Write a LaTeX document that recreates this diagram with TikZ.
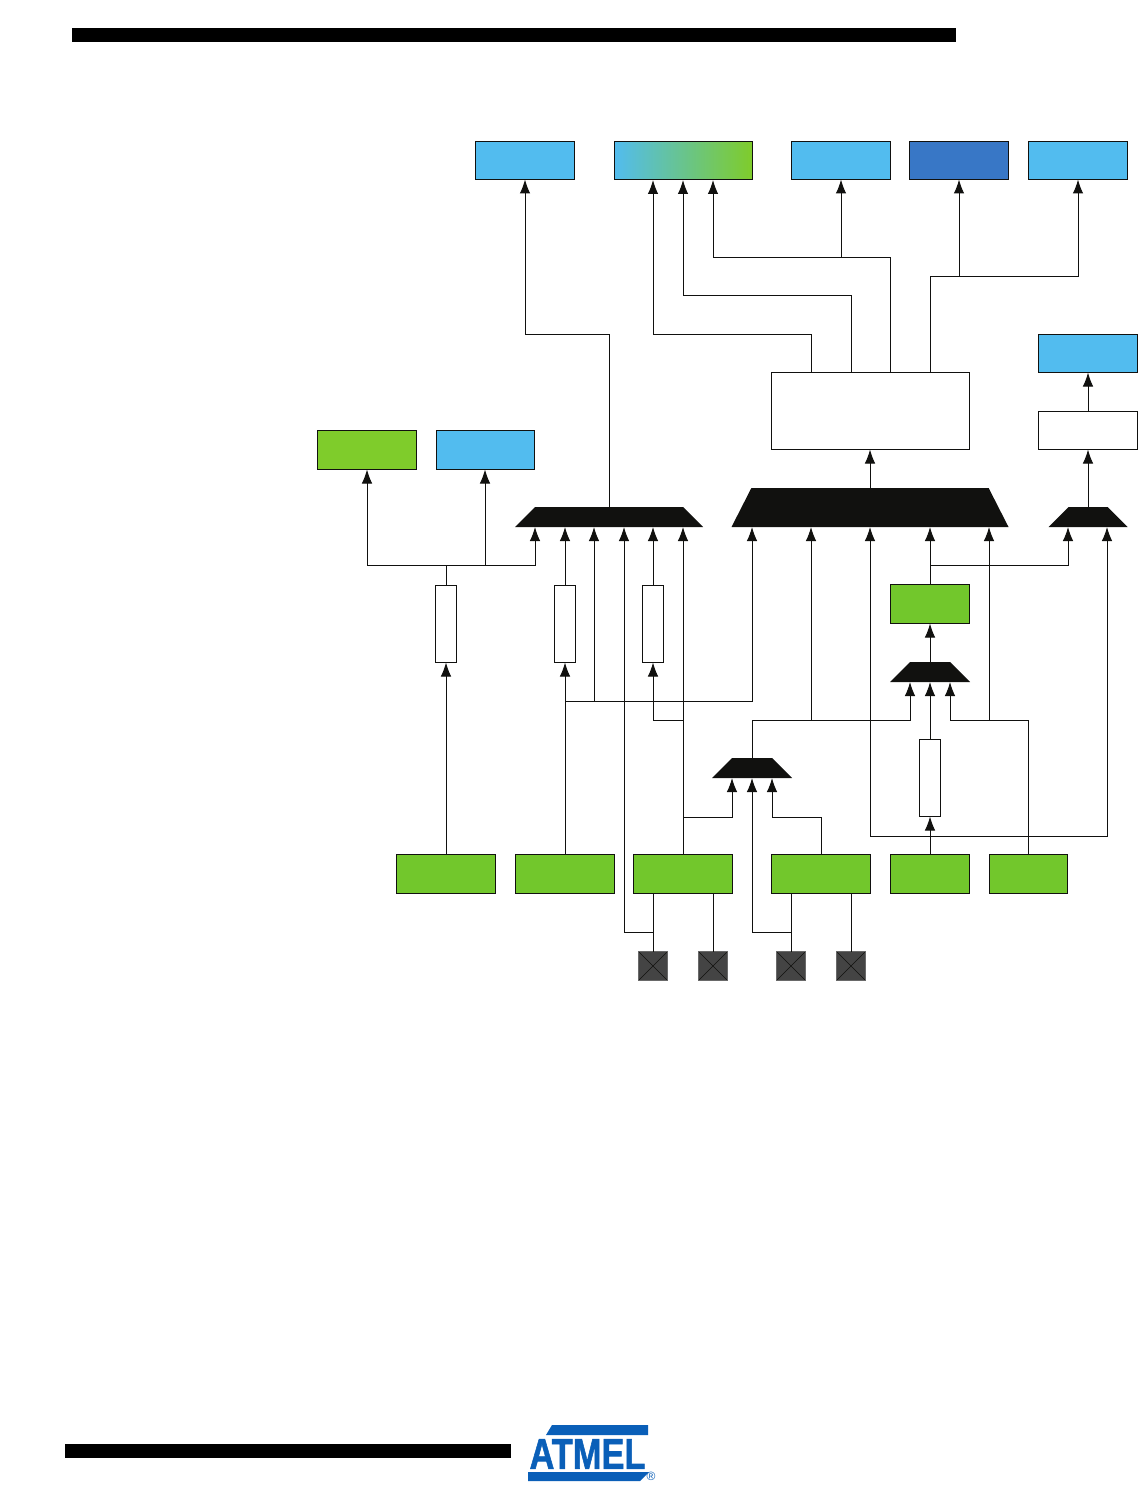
\documentclass[tikz,border=0pt]{standalone}
\usepackage{fontspec}
\usepackage{graphicx}
\usetikzlibrary{arrows.meta,shapes.geometric}
\setmainfont{Liberation Sans}
\newfontfamily\logofont[FakeBold=1.5,UprightFont=* Bold]{Liberation Sans}
\definecolor{pinfill}{HTML}{444444}
\definecolor{skyfill}{HTML}{52BCEF}
\definecolor{navyfill}{HTML}{3877C6}
\definecolor{leaffill}{HTML}{72C72C}
\definecolor{limefill}{HTML}{7FCC2B}
\definecolor{midfill}{HTML}{5CC58B}
\definecolor{muxfill}{HTML}{11110F}
\definecolor{logoblue}{HTML}{0A5FB8}
\tikzset{
  box/.style={draw=muxfill,line width=0.9pt,inner sep=0pt,outer sep=0pt,minimum height=38pt},
  mux/.style={trapezium,trapezium stretches body=true,fill=muxfill,inner sep=0pt,outer sep=0pt,text height=20pt,text depth=0pt,trapezium left angle=45,trapezium right angle=45},
  res/.style={box,fill=white,minimum width=20.5pt,minimum height=77pt},
  pin/.style={draw=pinfill!80!white,fill=pinfill,inner sep=0pt,outer sep=0pt,minimum size=29pt,
    path picture={\draw[muxfill,line width=0.5pt] (path picture bounding box.north west) -- (path picture bounding box.south east)
      (path picture bounding box.north east) -- (path picture bounding box.south west);}},
  wire/.style={draw=muxfill,line width=1pt},
  arr/.style={wire,-{Latex[length=14pt,width=10.5pt]}}
}
\begin{document}
\begin{tikzpicture}[x=1pt,y=-1pt]
  \path[use as bounding box,fill=white] (0,0) rectangle (1138,1487);
  \fill[black] (72,28) rectangle (956,42);
  \fill[black] (65,1444) rectangle (511,1458);

  \node[box,fill=skyfill,minimum width=99pt] (outa) at (525,160.5) {};
  \node[box,left color=skyfill,middle color=midfill,right color=limefill,minimum width=138pt] (outb) at (683,160.5) {};
  \node[box,fill=skyfill,minimum width=99pt] (outc) at (841,160.5) {};
  \node[box,fill=navyfill,minimum width=99pt] (outd) at (959,160.5) {};
  \node[box,fill=skyfill,minimum width=99pt] (oute) at (1078,160.5) {};
  \node[box,fill=skyfill,minimum width=99pt] (outf) at (1088,353.5) {};
  \node[box,fill=white,minimum width=99pt] (ctlf) at (1088,430.5) {};
  \node[box,fill=white,minimum width=198pt,minimum height=77pt] (core) at (870,411) {};
  \node[box,fill=limefill,minimum width=99pt,minimum height=39pt] (outg) at (367,450) {};
  \node[box,fill=skyfill,minimum width=98pt,minimum height=39pt] (outh) at (485,450) {};

  \node[mux,minimum width=188pt] (mxa) at (609,517) {};
  \node[mux,minimum width=277pt,text height=39pt,trapezium left angle=63,trapezium right angle=63] (mxb) at (870,507.5) {};
  \node[mux,minimum width=79pt] (mxc) at (1088,517) {};
  \node[mux,minimum width=80pt] (mxd) at (930,672) {};
  \node[mux,minimum width=80pt] (mxe) at (752,768) {};

  \node[res] (resa) at (446,624) {};
  \node[res] (resb) at (565,624) {};
  \node[res] (resc) at (653,624) {};
  \node[res] (resd) at (930,778) {};
  \node[box,fill=leaffill,minimum width=79pt,minimum height=39pt] (clkg) at (930,604) {};

  \node[box,fill=leaffill,minimum width=99pt,minimum height=39pt] (srca) at (446,874) {};
  \node[box,fill=leaffill,minimum width=99pt,minimum height=39pt] (srcb) at (565,874) {};
  \node[box,fill=leaffill,minimum width=99pt,minimum height=39pt] (srcc) at (683,874) {};
  \node[box,fill=leaffill,minimum width=99pt,minimum height=39pt] (srcd) at (821,874) {};
  \node[box,fill=leaffill,minimum width=79pt,minimum height=39pt] (srce) at (930,874) {};
  \node[box,fill=leaffill,minimum width=78pt,minimum height=39pt] (srcf) at (1028,874) {};

  \foreach \n/\x in {pina/653,pinb/713,pinc/791,pind/851}
    \node[pin] (\n) at (\x,966) {};

  \foreach \i/\x in {1/535,2/565,3/594,4/624,5/653,6/683}
    \coordinate (mxa-\i) at (\x,527);
  \foreach \i/\x in {1/752,2/811,3/870,4/930,5/989}
    \coordinate (mxb-\i) at (\x,527);
  \foreach \i/\x in {1/1068,2/1107}
    \coordinate (mxc-\i) at (\x,527);
  \foreach \i/\x in {1/910,2/930,3/950}
    \coordinate (mxd-\i) at (\x,682);
  \foreach \i/\x in {1/732,2/752,3/772}
    \coordinate (mxe-\i) at (\x,778);
  \foreach \i/\x in {1/653,2/683,3/713}
    \coordinate (outb-\i) at (\x,180);
  \foreach \i/\x in {1/811,2/851,3/890,4/930}
    \coordinate (core-\i) at (\x,372);

  \draw[arr] (mxa.north) -- (609,334) -| (outa.south);
  \draw[arr] (core-1) -- (811,334) -| (outb-1);
  \draw[arr] (core-2) -- (851,295.4) -| (outb-2);
  \draw[arr] (core-3) -- (890,257.4) -| (outb-3);
  \draw[arr] (841,257.4) -- (outc.south);
  \draw[arr] (core-4) -- (930,276.4) -| (oute.south);
  \draw[arr] (959,276.4) -- (outd.south);
  \draw[arr] (ctlf.north) -- (outf.south);
  \draw[arr] (mxc.north) -- (ctlf.south);
  \draw[arr] (mxb.north) -- (core.south);

  \draw[wire] (resa.north) -- (446,565);
  \draw[arr] (446,565) -| (outg.south);
  \draw[arr] (446,565) -| (outh.south);
  \draw[arr] (446,565) -| (mxa-1);
  \draw[arr] (srca.north) -- (resa.south);
  \draw[arr] (srcb.north) -- (resb.south);
  \draw[arr] (resb.north) -- (mxa-2);
  \draw[arr] (565,701) -| (mxb-1);
  \draw[arr] (594,701) -- (mxa-3);
  \draw[arr] (pina.north) -- (653,932) -| (mxa-4);
  \draw[arr] (resc.north) -- (mxa-5);
  \draw[arr] (srcc.north) -- (mxa-6);
  \draw[arr] (683,720) -| (resc.south);
  \draw[arr] (683,817) -| (mxe-1);
  \draw[arr] (pinc.north) -- (791,932) -| (mxe-2);
  \draw[arr] (srcd.north) -- (821,817) -| (mxe-3);
  \draw[arr] (mxe.north) -- (752,720) -| (mxd-1);
  \draw[arr] (811,720) -- (mxb-2);
  \draw[arr] (srce.north) -- (resd.south);
  \draw[arr] (930,836) -| (mxb-3);
  \draw[arr] (930,836) -| (mxc-2);
  \draw[arr] (resd.north) -- (mxd-2);
  \draw[arr] (srcf.north) -- (1028,720) -| (mxd-3);
  \draw[arr] (989,720) -- (mxb-5);
  \draw[arr] (mxd.north) -- (clkg.south);
  \draw[arr] (clkg.north) -- (mxb-4);
  \draw[arr] (930,565) -| (mxc-1);

  \draw[wire] (pina.north) -- (653,894);
  \draw[wire] (pinb.north) -- (713,894);
  \draw[wire] (pinc.north) -- (791,894);
  \draw[wire] (pind.north) -- (851,894);

  \fill[logoblue] (552,1425) -- (648,1425) -- (648,1435) -- (546,1435) -- cycle;
  \fill[logoblue] (528,1472) -- (649,1472) -- (640,1481) -- (528,1481) -- cycle;
  \node[inner sep=0pt,text=logoblue,font=\logofont\fontsize{43}{43}\selectfont] (logo) at (587.5,1454) {\scalebox{0.8}[1]{ATMEL}};
  \node[inner sep=0pt,text=logoblue,font=\fontsize{12}{12}\selectfont] (logomark) at (651,1476) {®};
\end{tikzpicture}
\end{document}
